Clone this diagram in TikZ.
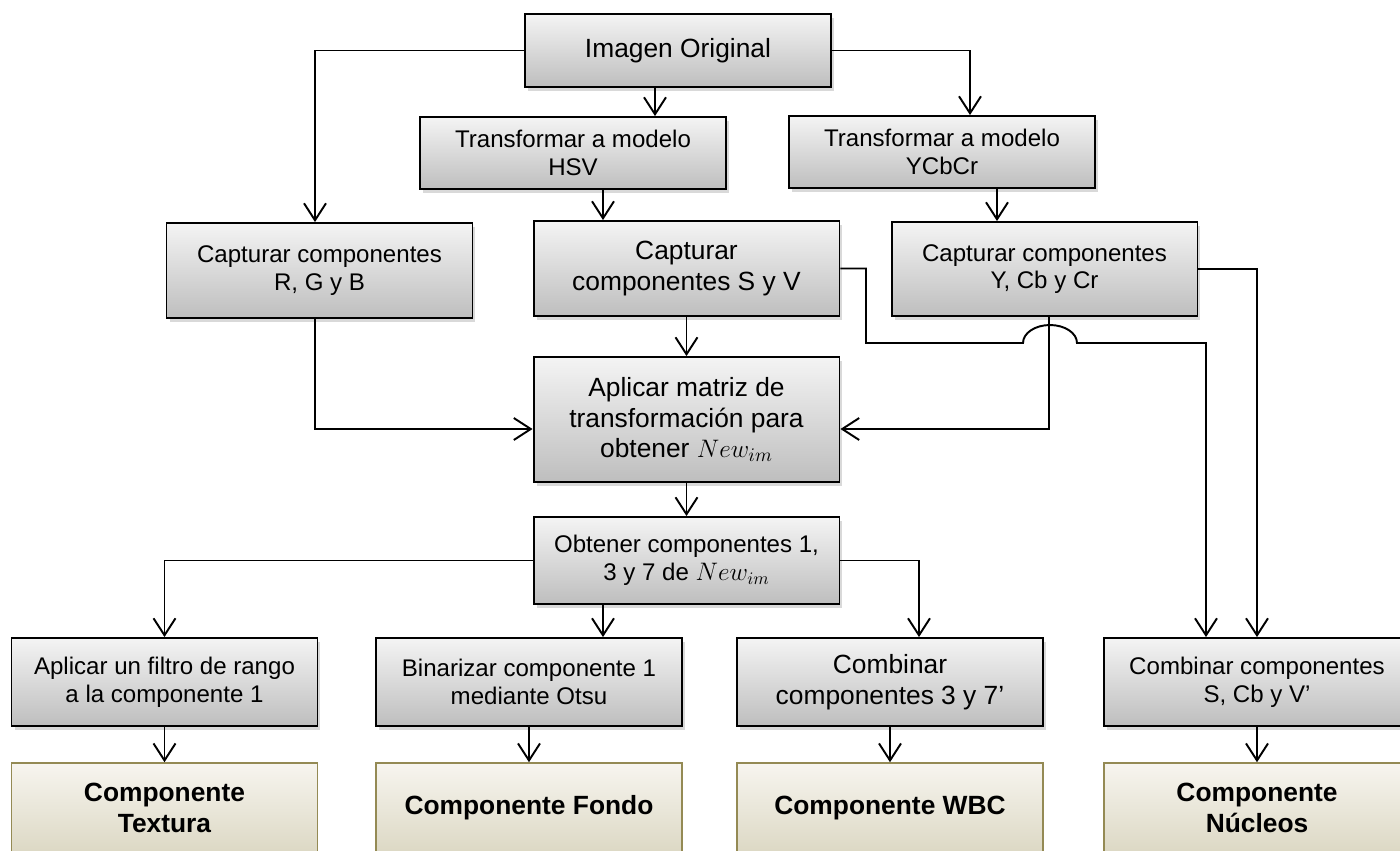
\documentclass[tikz,border=0pt]{standalone}
\usepackage{fontspec}
\setmainfont{Liberation Sans}
\usetikzlibrary{arrows.meta,shadows}
\definecolor{boxtop}{RGB}{244,244,244}
\definecolor{boxbot}{RGB}{190,190,190}
\definecolor{restop}{RGB}{247,245,239}
\definecolor{resbot}{RGB}{220,216,196}
\definecolor{resline}{RGB}{148,138,84}
\newcommand{\smallf}{\fontsize{13.7}{15.8}\selectfont}
\newcommand{\largef}{\fontsize{15}{17.3}\selectfont}

\begin{document}
\begin{tikzpicture}[x=0.02cm, y=-0.02cm,
  proc/.style={draw, line width=1.1pt, top color=boxtop, bottom color=boxbot, align=center,
    minimum width=6.12cm, inner sep=2pt,
    drop shadow={shadow xshift=0.06cm, shadow yshift=-0.07cm, opacity=0.3}},
  res/.style={draw=resline, line width=0.9pt, top color=restop, bottom color=resbot, align=center,
    minimum width=6.12cm, minimum height=1.8cm, font=\largef\bfseries},
  arr/.style={line width=1.1pt, -{Straight Barb[length=0.34cm, width=0.44cm]}}]
  \useasboundingbox (0,0) rectangle (1400,850);

  % boxes
  \node[proc, minimum height=1.46cm, font=\largef] (orig) at (678,50.5) {Imagen Original};
  \node[proc, minimum height=1.44cm, font=\smallf] (hsv) at (573,153) {Transformar a modelo\\HSV};
  \node[proc, minimum height=1.44cm, font=\smallf] (ycc) at (942,152) {Transformar a modelo\\YCbCr};
  \node[proc, minimum height=1.9cm, font=\smallf] (rgb) at (319.5,270.5) {Capturar componentes\\R, G y B};
  \node[proc, minimum height=1.9cm, font=\largef] (sv) at (686.5,268.5) {Capturar\\componentes S y V};
  \node[proc, minimum height=1.88cm, font=\smallf] (capy) at (1044.5,269) {Capturar componentes\\Y, Cb y Cr};
  \node[proc, minimum height=2.5cm, font=\largef] (mat) at (686.5,419.5) {Aplicar matriz de\\transformación para\\obtener $New_{im}$};
  \node[proc, minimum height=1.74cm, font=\smallf] (obt) at (686.5,560.5) {Obtener componentes 1,\\3 y 7 de $New_{im}$};
  \node[proc, minimum height=1.76cm, font=\smallf] (filt) at (164.5,682) {Aplicar un filtro de rango\\a la componente 1};
  \node[proc, minimum height=1.76cm, font=\smallf] (bin) at (529,682) {Binarizar componente 1\\mediante Otsu};
  \node[proc, minimum height=1.76cm, font=\largef] (comb) at (890,682) {Combinar\\componentes 3 y 7’};
  \node[proc, minimum height=1.76cm, font=\smallf] (combs) at (1257,682) {Combinar componentes\\S, Cb y V’};

  % results
  \node[res] (tex) at (164.5,808) {Componente\\Textura};
  \node[res] (fon) at (529,808) {Componente Fondo};
  \node[res] (wbc) at (890,808) {Componente WBC};
  \node[res] (nuc) at (1257,808) {Componente\\Núcleos};

  % lanes for the connectors
  \coordinate (laneR) at (315,0);
  \coordinate (laneH) at (655,0);
  \coordinate (laneY) at (970,0);
  \coordinate (laneS) at (603,0);
  \coordinate (laneC) at (997,0);
  \coordinate (laneD) at (1049,0);
  \coordinate (laneA) at (1206,0);
  \coordinate (laneW) at (919,0);
  \coordinate (matrow) at (0,429);
  \coordinate (svturn) at (866,343);
  \coordinate (jumpL) at (1023,343);

  \draw[arr] (orig.west) -| (rgb.north -| laneR);
  \draw[arr] (orig.south -| laneH) -- (hsv.north -| laneH);
  \draw[arr] (orig.east) -| (ycc.north -| laneY);
  \draw[arr] (hsv.south -| laneS) -- (sv.north -| laneS);
  \draw[arr] (ycc.south -| laneC) -- (capy.north -| laneC);
  \draw[arr] (rgb.south -| laneR) |- (mat.west |- matrow);
  \draw[arr] (sv.south) -- (mat.north);
  \draw[arr] (capy.south -| laneD) |- (mat.east |- matrow);
  \draw[arr] (sv.east) -| (svturn) -- (jumpL)
    arc[start angle=180, end angle=0, x radius=0.54cm, y radius=0.36cm] -| (combs.north -| laneA);
  \draw[arr] (capy.east) -| (combs.north);
  \draw[arr] (mat.south) -- (obt.north);
  \draw[arr] (obt.west) -| (filt.north);
  \draw[arr] (obt.south -| laneS) -- (bin.north -| laneS);
  \draw[arr] (obt.east) -| (comb.north -| laneW);
  \draw[arr] (filt.south) -- (tex.north);
  \draw[arr] (bin.south) -- (fon.north);
  \draw[arr] (comb.south) -- (wbc.north);
  \draw[arr] (combs.south) -- (nuc.north);
\end{tikzpicture}
\end{document}
